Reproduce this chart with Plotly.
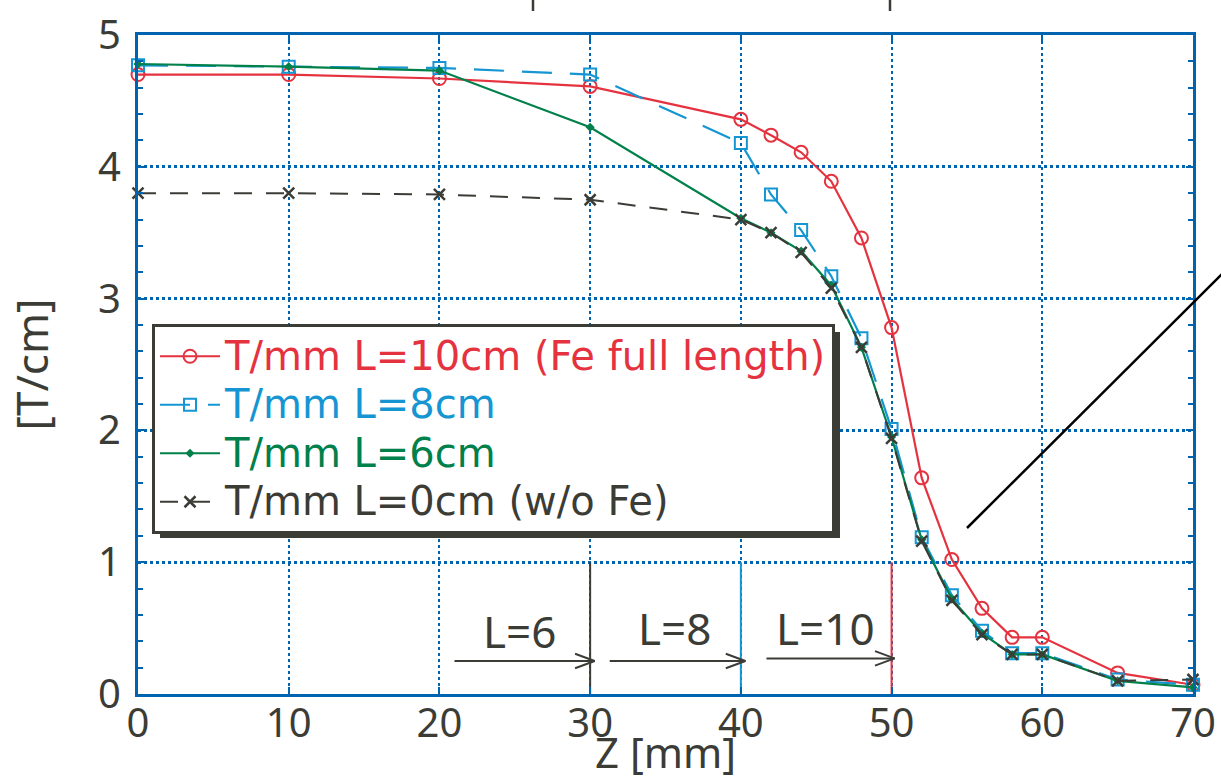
import plotly.graph_objects as go

z = [0, 10, 20, 30, 40, 42, 44, 46, 48, 50, 52, 54, 56, 58, 60, 65, 70]
t_l10 = [4.70, 4.70, 4.67, 4.61, 4.36, 4.24, 4.11, 3.89, 3.46, 2.78, 1.64, 1.02, 0.65, 0.43, 0.43, 0.16, 0.07]
t_l8 = [4.77, 4.76, 4.75, 4.70, 4.18, 3.79, 3.52, 3.17, 2.70, 2.01, 1.19, 0.75, 0.48, 0.31, 0.31, 0.11, 0.07]
t_l6 = [4.78, 4.76, 4.73, 4.30, 3.61, 3.50, 3.36, 3.10, 2.63, 1.95, 1.17, 0.72, 0.46, 0.30, 0.30, 0.10, 0.05]
t_l0 = [3.80, 3.80, 3.79, 3.75, 3.60, 3.50, 3.35, 3.08, 2.63, 1.94, 1.16, 0.71, 0.45, 0.30, 0.30, 0.10, 0.11]

names = ["T/mm L=10cm (Fe full length)", "T/mm L=8cm", "T/mm L=6cm", "T/mm L=0cm (w/o Fe)"]

# iron-end markers and arrows
iron_ends = [30, 40, 50]
iron_top = 1.0
arrow_start = [21.0, 31.3, 41.7]
arrow_end = [30.3, 40.3, 50.2]
arrow_y = [0.25, 0.25, 0.27]
arrow_labels = ["L=6", "L=8", "L=10"]
label_x = [25.3, 35.6, 45.6]
label_y = [0.48, 0.50, 0.50]

x_ticks = [0, 10, 20, 30, 40, 50, 60, 70]
y_ticks = [0, 1, 2, 3, 4, 5]

RED = "#e5323f"
BLUE = "#1596d3"
GREEN = "#00804a"
DARK = "#3c3c37"
AXC = "#0063b0"
FONT = "Noto Sans"
LFONT = "DejaVu Sans"

fig = go.Figure()

def legname(n, c):
    return f"<span style='color:{c};font-size:40px'>{n}</span>"

fig.add_trace(go.Scatter(x=z, y=t_l10, mode="lines+markers", name=legname(names[0], RED),
                         line=dict(color=RED, width=2.2),
                         marker=dict(symbol="circle-open", size=13, color=RED, line=dict(width=2)),
                         cliponaxis=False))
fig.add_trace(go.Scatter(x=z, y=t_l8, mode="lines+markers", name=legname(names[1], BLUE),
                         line=dict(color=BLUE, width=2.2, dash="30px,18px"),
                         marker=dict(symbol="square-open", size=12, color=BLUE, line=dict(width=2)),
                         cliponaxis=False))
fig.add_trace(go.Scatter(x=z, y=t_l6, mode="lines+markers", name=legname(names[2], GREEN),
                         line=dict(color=GREEN, width=2.2),
                         marker=dict(symbol="diamond", size=7, color=GREEN),
                         cliponaxis=False))
fig.add_trace(go.Scatter(x=z, y=t_l0, mode="lines+markers", name=legname(names[3], DARK),
                         line=dict(color=DARK, width=2, dash="18px,14px"),
                         marker=dict(symbol="x-thin-open", size=11, color=DARK, line=dict(width=2.5, color=DARK)),
                         cliponaxis=False))

# vertical iron-end lines
for xe, c in zip(iron_ends, [DARK, BLUE, RED]):
    fig.add_trace(go.Scatter(x=[xe, xe], y=[0, iron_top], mode="lines", showlegend=False,
                             line=dict(color=c, width=2), hoverinfo="skip"))

# arrows (shaft + open chevron)
for xs, xe, ya in zip(arrow_start, arrow_end, arrow_y):
    fig.add_trace(go.Scatter(x=[xs, xe, None, xe - 1.3, xe, xe - 1.3],
                             y=[ya, ya, None, ya + 0.055, ya, ya - 0.055],
                             mode="lines", showlegend=False, line=dict(color=DARK, width=2),
                             hoverinfo="skip"))

for lx, ly, lt in zip(label_x, label_y, arrow_labels):
    fig.add_annotation(x=lx, y=ly, text=lt, showarrow=False, xref="x", yref="y",
                       font=dict(family=FONT, size=44, color=DARK))

# legend shadow
L_L, L_R, L_T, L_B = 152, 838, 324, 530
PL, PR, PT, PB = 138, 1193, 35, 694
W, H = PR - PL, PB - PT
def px(x):
    return (x - PL) / W
def py(y):
    return (PB - y) / H

fig.add_shape(type="rect", xref="paper", yref="paper",
              x0=px(L_L + 8), x1=px(L_R + 2), y0=py(L_B + 8), y1=py(L_T + 8),
              fillcolor=DARK, line=dict(width=0), layer="above")

# diagonal line outside/right
fig.add_shape(type="line", xref="paper", yref="paper",
              x0=px(967), y0=py(528), x1=px(1223), y1=py(273),
              line=dict(color="black", width=2.5))
# cropped marks at top
for xm in [533, 890]:
    fig.add_shape(type="line", xref="paper", yref="paper",
                  x0=px(xm), x1=px(xm), y0=py(-2), y1=py(11),
                  line=dict(color=DARK, width=2.5))

fig.update_layout(
    width=1221, height=780,
    margin=dict(l=PL, r=1221 - PR, t=PT, b=780 - PB),
    plot_bgcolor="white", paper_bgcolor="white",
    font=dict(family=FONT, color=DARK),
    showlegend=True,
    legend=dict(x=px(L_L), y=py(L_T), xanchor="left", yanchor="top",
                bgcolor="white", bordercolor=DARK, borderwidth=3,
                font=dict(family=LFONT, size=35, color=DARK),
                itemwidth=60, tracegroupgap=0),
)

fig.update_xaxes(range=[0, 70], tickvals=x_ticks, ticktext=[str(v) for v in x_ticks],
                 showline=True, linecolor=AXC, linewidth=3, mirror="allticks",
                 ticks="inside", ticklen=7, tickwidth=2, tickcolor=AXC,
                 showgrid=True, gridcolor=AXC, gridwidth=2, griddash="dot",
                 zeroline=False, automargin=False, ticklabelstandoff=-8,
                 tickfont=dict(family=FONT, size=40, color=DARK),
                 title=dict(text="Z [mm]", font=dict(family=FONT, size=42, color=DARK), standoff=4))
fig.update_yaxes(range=[0, 5], tickvals=y_ticks, ticktext=[str(v) for v in y_ticks],
                 showline=True, linecolor=AXC, linewidth=3, mirror="allticks",
                 ticks="inside", ticklen=7, tickwidth=2, tickcolor=AXC,
                 minor=dict(dtick=0.2, ticks="inside", ticklen=5, tickwidth=2, tickcolor=AXC, showgrid=False),
                 showgrid=True, gridcolor=AXC, gridwidth=3, griddash="dot",
                 zeroline=False, ticklabelstandoff=6, automargin=False,
                 tickfont=dict(family=FONT, size=40, color=DARK),
                 title=dict(text="[T/cm]", font=dict(family=FONT, size=44, color=DARK), standoff=36))

fig.write_html("out.html")
